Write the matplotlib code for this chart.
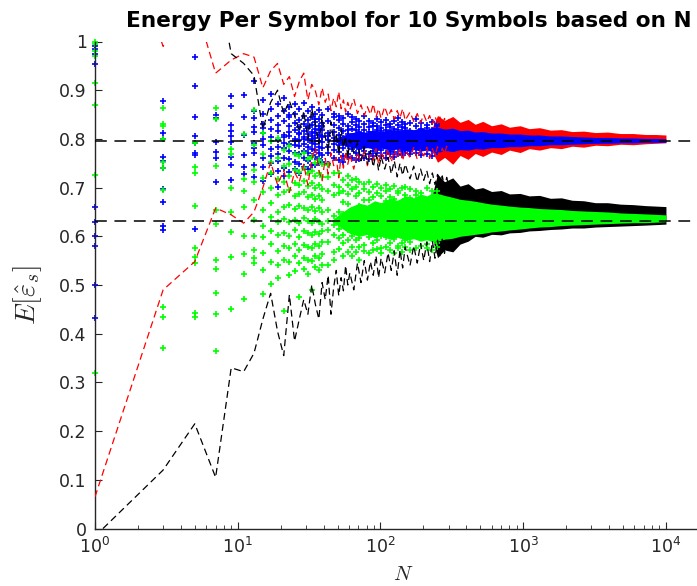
import matplotlib
matplotlib.use("Agg")
import matplotlib.pyplot as plt
from matplotlib.ticker import LogLocator, NullFormatter

plt.rcParams['mathtext.fontset'] = 'cm'
plt.rcParams['lines.scale_dashes'] = False

# 两条参考线
ref_hi = 0.7966
ref_lo = 0.6321

# 包络线 (red / black)，按 N 读取
env_n = [1, 3, 5, 7, 9, 11, 13, 15, 17, 19, 21, 23, 25, 27, 29, 31, 33, 35, 37, 39,
         41, 43, 45, 47, 49, 51, 53, 55, 57, 59, 61,
         65, 69, 73, 77, 81, 85, 89, 93, 97, 101,
         107, 113, 119, 125, 131, 137, 143, 149,
         161, 171, 181, 191, 201, 211, 221, 231, 241, 251, 261, 271, 281, 291, 301]
red_lower = [0.065, 0.49, 0.548, 0.658, 0.644, 0.627, 0.650, 0.700, 0.752, 0.706, 0.735, 0.690,
             0.732, 0.712, 0.748, 0.705, 0.758, 0.782, 0.736, 0.714, 0.760, 0.728, 0.771, 0.745,
             0.762, 0.720, 0.766, 0.740, 0.774, 0.748, 0.768,
             0.738, 0.772, 0.752, 0.778, 0.745, 0.770, 0.756, 0.780, 0.748, 0.774,
             0.757, 0.779, 0.752, 0.776, 0.760, 0.781, 0.755, 0.777,
             0.762, 0.782, 0.758, 0.779, 0.765, 0.783, 0.760, 0.780, 0.767, 0.784, 0.763, 0.781,
             0.769, 0.785, 0.768]
red_upper = [1.40, 0.99, 1.08, 0.935, 0.962, 0.975, 0.968, 0.905, 0.940, 0.955, 0.912, 0.928,
             0.887, 0.918, 0.935, 0.880, 0.912, 0.898, 0.870, 0.905, 0.875, 0.892, 0.858, 0.884,
             0.866, 0.897, 0.862, 0.880, 0.855, 0.875, 0.860,
             0.882, 0.852, 0.870, 0.848, 0.866, 0.850, 0.872, 0.845, 0.862, 0.842,
             0.866, 0.846, 0.860, 0.840, 0.858, 0.843, 0.862, 0.838,
             0.855, 0.836, 0.852, 0.833, 0.850, 0.835, 0.848, 0.830, 0.846, 0.832, 0.845, 0.829,
             0.842, 0.830, 0.840]
black_lower = [-0.016, 0.12, 0.215, 0.105, 0.33, 0.322, 0.36, 0.43, 0.483, 0.405, 0.355, 0.48,
               0.385, 0.43, 0.47, 0.44, 0.50, 0.46, 0.43, 0.505, 0.47, 0.52, 0.44, 0.495,
               0.53, 0.478, 0.515, 0.488, 0.54, 0.50, 0.525,
               0.49, 0.545, 0.505, 0.55, 0.51, 0.548, 0.52, 0.56, 0.515, 0.555,
               0.525, 0.566, 0.53, 0.57, 0.52, 0.572, 0.535, 0.578,
               0.54, 0.58, 0.545, 0.585, 0.55, 0.588, 0.548, 0.59, 0.555, 0.592, 0.56, 0.594,
               0.565, 0.596, 0.57]
black_upper = [1.5, 1.4, 1.3, 1.15, 0.975, 0.955, 0.93, 0.82, 0.875, 0.90, 0.852, 0.878,
               0.848, 0.815, 0.856, 0.80, 0.862, 0.83, 0.79, 0.845, 0.805, 0.775, 0.835, 0.795,
               0.812, 0.768, 0.82, 0.782, 0.805, 0.762, 0.798,
               0.772, 0.792, 0.755, 0.785, 0.748, 0.776, 0.742, 0.770, 0.735, 0.764,
               0.738, 0.762, 0.728, 0.755, 0.722, 0.750, 0.725, 0.748,
               0.718, 0.744, 0.712, 0.738, 0.715, 0.735, 0.708, 0.730, 0.706, 0.727, 0.703, 0.724,
               0.700, 0.721, 0.702]

# 每个 N 的估计值 (blue / green)
blue_cols = [
    (1, [0.99, 0.985, 0.953, 0.66, 0.63, 0.601, 0.581, 0.5, 0.433, 0.975]),
    (3, [0.878, 0.813, 0.8, 0.763, 0.755, 0.741, 0.697, 0.671, 0.621, 0.613]),
    (5, [0.969, 0.909, 0.844, 0.806, 0.792, 0.772, 0.767, 0.616]),
    (7, [0.849, 0.842, 0.794, 0.774, 0.76, 0.712]),
    (9, [0.889, 0.868, 0.829, 0.817, 0.805, 0.793, 0.762, 0.747, 0.716]),
    (11, [0.891, 0.844, 0.808, 0.766, 0.743, 0.728]),
    (13, [0.919, 0.858, 0.842, 0.825, 0.815, 0.791, 0.772, 0.746, 0.722, 0.781]),
    (15, [0.880, 0.851, 0.830, 0.812, 0.800, 0.788, 0.760, 0.742, 0.713, 0.822]),
    (17, [0.893, 0.862, 0.838, 0.820, 0.804, 0.779, 0.765, 0.750, 0.728, 0.796]),
    (19, [0.872, 0.848, 0.829, 0.816, 0.797, 0.784, 0.770, 0.755, 0.735, 0.702]),
    (21, [0.885, 0.857, 0.836, 0.809, 0.792, 0.781, 0.760, 0.741, 0.724, 0.803]),
    (23, [0.866, 0.844, 0.826, 0.814, 0.806, 0.790, 0.775, 0.758, 0.733, 0.850]),
    (25, [0.871, 0.851, 0.832, 0.818, 0.800, 0.787, 0.771, 0.752, 0.738, 0.795]),
    (27, [0.862, 0.839, 0.825, 0.810, 0.798, 0.785, 0.768, 0.749, 0.730, 0.812]),
    (29, [0.873, 0.846, 0.830, 0.816, 0.803, 0.790, 0.776, 0.761, 0.742, 0.800]),
    (31, [0.857, 0.838, 0.822, 0.811, 0.797, 0.783, 0.771, 0.755, 0.739, 0.826]),
    (33, [0.866, 0.845, 0.829, 0.806, 0.792, 0.780, 0.765, 0.747, 0.815, 0.800]),
    (35, [0.852, 0.834, 0.821, 0.812, 0.801, 0.789, 0.777, 0.763, 0.746, 0.840]),
    (37, [0.860, 0.841, 0.826, 0.809, 0.796, 0.784, 0.772, 0.758, 0.818, 0.751]),
    (39, [0.849, 0.832, 0.818, 0.806, 0.794, 0.781, 0.767, 0.752, 0.826, 0.803]),
    (43, [0.861, 0.812, 0.797, 0.836, 0.771, 0.749, 0.805, 0.783]),
    (47, [0.829, 0.844, 0.790, 0.760, 0.815, 0.802, 0.778, 0.852]),
    (51, [0.808, 0.838, 0.774, 0.795, 0.756, 0.823, 0.787, 0.847]),
    (55, [0.842, 0.781, 0.816, 0.801, 0.765, 0.830, 0.793, 0.752]),
    (59, [0.799, 0.826, 0.770, 0.851, 0.811, 0.786, 0.762, 0.819]),
    (63, [0.834, 0.806, 0.779, 0.760, 0.821, 0.794, 0.845, 0.788]),
    (67, [0.787, 0.818, 0.840, 0.772, 0.803, 0.756, 0.828, 0.797]),
    (71, [0.815, 0.792, 0.766, 0.836, 0.809, 0.780, 0.824, 0.758]),
    (77, [0.801, 0.830, 0.783, 0.761, 0.818, 0.846, 0.792, 0.775]),
    (83, [0.824, 0.789, 0.811, 0.768, 0.837, 0.798, 0.759, 0.815]),
    (89, [0.793, 0.814, 0.832, 0.776, 0.805, 0.764, 0.827, 0.786]),
    (95, [0.810, 0.785, 0.771, 0.826, 0.798, 0.841, 0.779, 0.819]),
    (101, [0.787, 0.822, 0.803, 0.765, 0.816, 0.778, 0.835, 0.796]),
    (109, [0.818, 0.795, 0.772, 0.829, 0.806, 0.761, 0.790, 0.839]),
    (117, [0.800, 0.783, 0.824, 0.811, 0.768, 0.831, 0.793, 0.776]),
    (125, [0.813, 0.790, 0.836, 0.774, 0.805, 0.821, 0.763, 0.798]),
    (133, [0.782, 0.819, 0.801, 0.828, 0.769, 0.807, 0.843, 0.790]),
    (141, [0.809, 0.776, 0.825, 0.794, 0.834, 0.766, 0.815, 0.788]),
    (149, [0.796, 0.822, 0.780, 0.811, 0.771, 0.830, 0.804, 0.785]),
    (161, [0.817, 0.775, 0.832, 0.792, 0.768, 0.808]),
    (177, [0.783, 0.826, 0.799, 0.840, 0.772, 0.812]),
    (193, [0.821, 0.790, 0.766, 0.814, 0.833, 0.779]),
    (211, [0.786, 0.829, 0.806, 0.770, 0.823, 0.795]),
    (229, [0.812, 0.777, 0.835, 0.792, 0.764, 0.818]),
    (247, [0.791, 0.826, 0.773, 0.810, 0.830, 0.781]),
]
green_cols = [
    (1, [1.0, 0.995, 0.98, 0.97, 0.914, 0.87, 0.726, 0.319]),
    (3, [0.863, 0.83, 0.826, 0.8, 0.752, 0.741, 0.696, 0.455, 0.435, 0.37]),
    (5, [0.791, 0.742, 0.729, 0.663, 0.575, 0.557, 0.545, 0.442, 0.435]),
    (7, [0.863, 0.841, 0.744, 0.654, 0.625, 0.551, 0.533, 0.484, 0.44, 0.365]),
    (9, [0.779, 0.77, 0.70, 0.649, 0.609, 0.557, 0.45]),
    (11, [0.811, 0.718, 0.694, 0.66, 0.60, 0.563, 0.523, 0.471]),
    (13, [0.859, 0.787, 0.736, 0.712, 0.675, 0.634, 0.600, 0.572, 0.555, 0.545]),
    (15, [0.812, 0.768, 0.720, 0.690, 0.655, 0.622, 0.598, 0.566, 0.530, 0.482]),
    (17, [0.795, 0.752, 0.731, 0.700, 0.668, 0.640, 0.611, 0.584, 0.548, 0.502]),
    (19, [0.801, 0.760, 0.718, 0.684, 0.650, 0.629, 0.603, 0.570, 0.541, 0.515]),
    (21, [0.778, 0.744, 0.712, 0.690, 0.661, 0.636, 0.607, 0.580, 0.447, 0.551]),
    (23, [0.786, 0.749, 0.723, 0.695, 0.664, 0.630, 0.601, 0.576, 0.548, 0.520]),
    (25, [0.770, 0.737, 0.709, 0.682, 0.657, 0.633, 0.612, 0.585, 0.559, 0.528]),
    (27, [0.764, 0.733, 0.706, 0.687, 0.662, 0.627, 0.598, 0.571, 0.476, 0.545]),
    (29, [0.772, 0.741, 0.714, 0.690, 0.659, 0.638, 0.610, 0.582, 0.555, 0.533]),
    (31, [0.758, 0.729, 0.703, 0.680, 0.655, 0.631, 0.606, 0.579, 0.552, 0.523]),
    (33, [0.763, 0.735, 0.710, 0.684, 0.660, 0.628, 0.603, 0.577, 0.490, 0.549]),
    (35, [0.751, 0.724, 0.699, 0.677, 0.652, 0.635, 0.609, 0.584, 0.560, 0.537]),
    (37, [0.757, 0.730, 0.705, 0.683, 0.658, 0.630, 0.605, 0.580, 0.556, 0.530]),
    (39, [0.748, 0.721, 0.697, 0.675, 0.649, 0.626, 0.611, 0.588, 0.563, 0.541]),
    (43, [0.721, 0.588, 0.655, 0.693, 0.541, 0.631, 0.612, 0.746]),
    (47, [0.642, 0.705, 0.567, 0.684, 0.603, 0.731, 0.623, 0.552]),
    (51, [0.688, 0.614, 0.729, 0.574, 0.650, 0.597, 0.702, 0.636]),
    (55, [0.603, 0.671, 0.628, 0.715, 0.559, 0.646, 0.587, 0.694]),
    (59, [0.667, 0.592, 0.705, 0.628, 0.568, 0.686, 0.612, 0.724]),
    (63, [0.621, 0.698, 0.578, 0.653, 0.716, 0.601, 0.640, 0.560]),
    (67, [0.682, 0.609, 0.641, 0.567, 0.701, 0.627, 0.593, 0.718]),
    (71, [0.596, 0.663, 0.711, 0.618, 0.579, 0.689, 0.638, 0.552]),
    (77, [0.674, 0.614, 0.583, 0.697, 0.643, 0.569, 0.708, 0.626]),
    (83, [0.631, 0.690, 0.598, 0.565, 0.659, 0.712, 0.612, 0.675]),
    (89, [0.605, 0.652, 0.701, 0.586, 0.635, 0.680, 0.571, 0.621]),
    (95, [0.664, 0.592, 0.626, 0.707, 0.611, 0.574, 0.689, 0.645]),
    (101, [0.620, 0.683, 0.575, 0.648, 0.699, 0.601, 0.637, 0.566]),
    (109, [0.652, 0.599, 0.693, 0.630, 0.579, 0.672, 0.613, 0.706]),
    (117, [0.609, 0.664, 0.586, 0.697, 0.643, 0.571, 0.624, 0.681]),
    (125, [0.677, 0.616, 0.648, 0.594, 0.703, 0.632, 0.566, 0.659]),
    (133, [0.627, 0.689, 0.581, 0.655, 0.606, 0.694, 0.641, 0.575]),
    (141, [0.661, 0.603, 0.637, 0.699, 0.587, 0.671, 0.619, 0.568]),
    (149, [0.615, 0.676, 0.592, 0.648, 0.701, 0.629, 0.578, 0.684]),
    (161, [0.662, 0.588, 0.697, 0.621, 0.572, 0.679]),
    (177, [0.603, 0.684, 0.640, 0.575, 0.694, 0.617]),
    (193, [0.671, 0.596, 0.629, 0.688, 0.580, 0.652]),
    (211, [0.584, 0.660, 0.699, 0.611, 0.645, 0.577]),
    (229, [0.655, 0.598, 0.681, 0.571, 0.633, 0.692]),
    (247, [0.607, 0.670, 0.586, 0.693, 0.640, 0.579]),
]

# N 大时的密集带 (上下边界)，起点收成一点
core_n = [45, 53, 61, 71, 81, 91, 101, 116, 131, 151, 171, 191, 211, 231,
          251, 281, 321, 361, 411, 461, 521, 601, 701, 801, 951, 1101, 1301, 1551, 1851,
          2201, 2651, 3201, 3901, 4801, 5901, 7201, 8501, 9999]
blue_lo = [0.797, 0.789, 0.783, 0.780, 0.782, 0.779, 0.781, 0.777, 0.779, 0.776, 0.778, 0.775,
           0.777, 0.774,
           0.772, 0.776, 0.774, 0.778, 0.777, 0.780, 0.779, 0.782, 0.782, 0.784, 0.784, 0.786,
           0.786, 0.788, 0.788, 0.789, 0.790, 0.791, 0.791, 0.792, 0.792, 0.793, 0.793, 0.793]
blue_hi = [0.797, 0.806, 0.812, 0.816, 0.813, 0.818, 0.815, 0.820, 0.817, 0.821, 0.819, 0.823,
           0.820, 0.824,
           0.824, 0.820, 0.822, 0.817, 0.818, 0.814, 0.815, 0.812, 0.812, 0.810, 0.810, 0.808,
           0.808, 0.806, 0.806, 0.805, 0.804, 0.803, 0.803, 0.802, 0.802, 0.801, 0.801, 0.800]
green_lo = [0.632, 0.617, 0.606, 0.600, 0.604, 0.597, 0.601, 0.594, 0.598, 0.592, 0.595, 0.590,
            0.593, 0.589,
            0.590, 0.594, 0.596, 0.600, 0.602, 0.604, 0.606, 0.609, 0.611, 0.613, 0.615, 0.617,
            0.619, 0.620, 0.622, 0.623, 0.624, 0.625, 0.626, 0.627, 0.628, 0.628, 0.629, 0.630]
green_hi = [0.632, 0.648, 0.660, 0.668, 0.664, 0.673, 0.669, 0.678, 0.674, 0.683, 0.679, 0.687,
            0.683, 0.689,
            0.688, 0.684, 0.680, 0.676, 0.674, 0.672, 0.669, 0.666, 0.664, 0.662, 0.660, 0.659,
            0.657, 0.656, 0.655, 0.653, 0.652, 0.651, 0.650, 0.648, 0.647, 0.646, 0.645, 0.644]

band_n = [211, 251, 281, 321, 361, 411, 461, 521, 601, 701, 801, 951, 1101, 1301, 1551, 1851,
          2201, 2651, 3201, 3901, 4801, 5901, 7201, 8501, 9999]
red_lo = [0.797, 0.752, 0.762, 0.748, 0.766, 0.758, 0.770, 0.764, 0.773, 0.768, 0.777, 0.772,
          0.780, 0.777, 0.782, 0.780, 0.785, 0.783, 0.787, 0.786, 0.789, 0.788, 0.790, 0.791, 0.792]
red_hi = [0.797, 0.848, 0.838, 0.846, 0.834, 0.840, 0.830, 0.836, 0.827, 0.831, 0.824, 0.827,
          0.821, 0.823, 0.818, 0.819, 0.815, 0.816, 0.813, 0.814, 0.811, 0.811, 0.809, 0.809, 0.808]
black_lo = [0.640, 0.556, 0.572, 0.568, 0.584, 0.590, 0.600, 0.598, 0.604, 0.603, 0.607, 0.608,
            0.611, 0.612, 0.614, 0.615, 0.617, 0.617, 0.619, 0.620, 0.621, 0.622, 0.623, 0.624, 0.625]
black_hi = [0.640, 0.728, 0.712, 0.720, 0.703, 0.708, 0.697, 0.700, 0.692, 0.694, 0.687, 0.688,
            0.683, 0.684, 0.678, 0.679, 0.674, 0.673, 0.669, 0.669, 0.666, 0.665, 0.663, 0.662, 0.661]

yticks = [0, 0.1, 0.2, 0.3, 0.4, 0.5, 0.6, 0.7, 0.8, 0.9, 1]
ytick_labels = ['0', '0.1', '0.2', '0.3', '0.4', '0.5', '0.6', '0.7', '0.8', '0.9', '1']

gray = '#262626'

fig = plt.figure(figsize=(6.97, 5.86), dpi=100)
ax = fig.add_axes([95 / 697, 57.5 / 586, 602 / 697, 487 / 586])

# 密集带
ax.fill_between(band_n, red_lo, red_hi, color='red', lw=0, zorder=1)
ax.fill_between(band_n, black_lo, black_hi, color='black', lw=0, zorder=1)
ax.fill_between(core_n, blue_lo, blue_hi, color='blue', lw=0, zorder=1.5)
ax.fill_between(core_n, green_lo, green_hi, color=(0, 1, 0), lw=0, zorder=1.5)

# 散点
bx = [n for n, vals in blue_cols for v in vals]
by = [v for n, vals in blue_cols for v in vals]
gx = [n for n, vals in green_cols for v in vals]
gy = [v for n, vals in green_cols for v in vals]
ax.plot(bx, by, '+', color='blue', ms=4, mew=1.2, clip_on=False, zorder=2)
ax.plot(gx, gy, '+', color=(0, 1, 0), ms=4, mew=1.2, clip_on=False, zorder=2)

# 包络线
for vals, c in [(red_lower, 'red'), (red_upper, 'red'), (black_lower, 'black'), (black_upper, 'black')]:
    ax.plot(env_n, vals, color=c, lw=0.9, dashes=(5, 3), zorder=3)

# 参考线
ax.axhline(ref_hi, color='black', lw=1.1, dashes=(8.5, 5.5), zorder=4)
ax.axhline(ref_lo, color='black', lw=1.1, dashes=(8.5, 5.5), zorder=4)

ax.set_xscale('log')
ax.set_xlim(1, 16500)
ax.set_ylim(0, 1)
ax.set_yticks(yticks)
ax.set_yticklabels(ytick_labels)
ax.xaxis.set_major_locator(LogLocator(base=10, numticks=10))
ax.xaxis.set_minor_locator(LogLocator(base=10, subs=range(2, 10), numticks=50))
ax.xaxis.set_minor_formatter(NullFormatter())

for s in ['top', 'right']:
    ax.spines[s].set_visible(False)
for s in ['left', 'bottom']:
    ax.spines[s].set_color(gray)
    ax.spines[s].set_linewidth(1.0)
ax.tick_params(direction='in', colors=gray, labelsize=12.5, length=5, width=0.8, pad=6)
ax.tick_params(which='minor', direction='in', colors=gray, length=3, width=0.6)

ax.set_xlabel('$N$', fontsize=15, color=gray)
ax.xaxis.set_label_coords(0.512, -0.072)
ax.set_ylabel(r'$E[\hat{\varepsilon}_s]$', fontsize=20, color=gray)
ax.yaxis.set_label_coords(-0.085, 0.48)

fig.text(409 / 697, 1 - 21 / 586, 'Energy Per Symbol for 10 Symbols based on N',
         ha='center', va='center', fontsize=15.6, fontweight='bold')

fig.savefig('out.png', dpi=100)
